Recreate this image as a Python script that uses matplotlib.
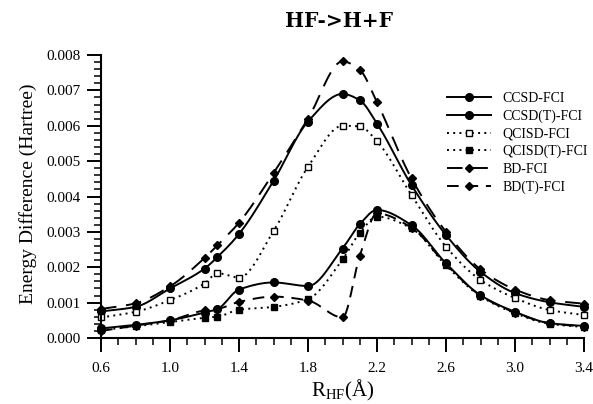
import numpy as np
import matplotlib
matplotlib.use("Agg")
import matplotlib.pyplot as plt
from matplotlib.lines import Line2D
from matplotlib.ticker import MultipleLocator, FixedLocator, FormatStrFormatter

plt.rcParams["font.family"] = ["Liberation Serif", "DejaVu Serif"]
plt.rcParams["mathtext.fontset"] = "custom"
plt.rcParams["mathtext.rm"] = "Liberation Serif"

# H-F bond distance (Angstrom)
r_hf = [0.6, 0.8, 1.0, 1.2, 1.275, 1.4, 1.6, 1.8, 2.0, 2.1, 2.2, 2.4, 2.6, 2.8, 3.0, 3.2, 3.4]

# Energy differences relative to FCI (Hartree)
ccsd = [0.00075, 0.00088, 0.00140, 0.00196, 0.00229, 0.00294, 0.00444, 0.00612, 0.00690,
        0.00672, 0.00606, 0.00432, 0.00291, 0.00187, 0.00127, 0.00101, 0.00088]
ccsd_t = [0.00027, 0.00037, 0.00050, 0.00072, 0.00082, 0.00137, 0.00157, 0.00147, 0.00253,
          0.00322, 0.00362, 0.00319, 0.00211, 0.00121, 0.00074, 0.00042, 0.00034]
qcisd = [0.00058, 0.00074, 0.00107, 0.00154, 0.00183, 0.00171, 0.00302, 0.00484, 0.00600,
         0.00598, 0.00556, 0.00404, 0.00258, 0.00164, 0.00113, 0.00079, 0.00065]
qcisd_t = [0.00022, 0.00033, 0.00045, 0.00057, 0.00060, 0.00080, 0.00088, 0.00110, 0.00222,
           0.00297, 0.00343, 0.00310, 0.00205, 0.00118, 0.00070, 0.00040, 0.00031]
bd = [0.00082, 0.00098, 0.00146, 0.00226, 0.00262, 0.00326, 0.00466, 0.00620, 0.00782,
      0.00758, 0.00666, 0.00451, 0.00300, 0.00194, 0.00137, 0.00107, 0.00097]
bd_t = [0.00020, 0.00035, 0.00050, 0.00078, 0.00082, 0.00102, 0.00117, 0.00106, 0.00058,
        0.00232, 0.00352, 0.00312, 0.00208, 0.00120, 0.00072, 0.00042, 0.00032]

series_labels = ["CCSD-FCI", "CCSD(T)-FCI", "QCISD-FCI", "QCISD(T)-FCI", "BD-FCI", "BD(T)-FCI"]

# Axis tick positions
x_major_ticks = [0.6, 1.0, 1.4, 1.8, 2.2, 2.6, 3.0, 3.4]


def smooth_curve(x, y, n=24):
    """Monotone cubic (Fritsch-Carlson) curve through the points, for drawing."""
    x = np.asarray(x, float)
    y = np.asarray(y, float)
    h = np.diff(x)
    delta = np.diff(y) / h
    d = np.zeros_like(y)
    for k in range(1, len(x) - 1):
        if delta[k - 1] * delta[k] > 0:
            w1 = 2 * h[k] + h[k - 1]
            w2 = h[k] + 2 * h[k - 1]
            d[k] = (w1 + w2) / (w1 / delta[k - 1] + w2 / delta[k])
    d[0] = delta[0]
    d[-1] = delta[-1]
    xs, ys = [], []
    for k in range(len(x) - 1):
        t = np.linspace(0, 1, n, endpoint=(k == len(x) - 2))
        h00 = 2 * t**3 - 3 * t**2 + 1
        h10 = t**3 - 2 * t**2 + t
        h01 = -2 * t**3 + 3 * t**2
        h11 = t**3 - t**2
        ys.append(h00 * y[k] + h10 * h[k] * d[k] + h01 * y[k + 1] + h11 * h[k] * d[k + 1])
        xs.append(x[k] + t * h[k])
    return np.concatenate(xs), np.concatenate(ys)


styles = [
    dict(ls="-", marker="o", mfc="k", ms=5.5),
    dict(ls="-", marker="o", mfc="k", ms=5.5),
    dict(ls=(0, (1, 2.2)), marker="s", mfc="white", ms=5),
    dict(ls=(0, (1, 2.2)), marker="s", mfc="k", ms=5),
    dict(ls=(0, (8, 5)), marker="D", mfc="k", ms=4),
    dict(ls=(0, (6, 4)), marker="D", mfc="k", ms=4),
]

fig = plt.figure(figsize=(5.93, 4.04), dpi=100)
ax = fig.add_axes([101 / 593, 1 - 338 / 404, (584 - 101) / 593, (338 - 55) / 404])

all_series = [ccsd, ccsd_t, qcisd, qcisd_t, bd, bd_t]
handles = []
for vals, st, lab in zip(all_series, styles, series_labels):
    xs, ys = smooth_curve(r_hf, vals)
    ax.plot(xs, ys, color="k", lw=1.4, ls=st["ls"], clip_on=False)
    ax.plot(r_hf, vals, ls="none", marker=st["marker"], ms=st["ms"], mfc=st["mfc"],
            mec="k", mew=1.0, clip_on=False)
    handles.append(Line2D([], [], color="k", lw=1.4, ls=st["ls"], marker=st["marker"],
                          ms=st["ms"], mfc=st["mfc"], mec="k", mew=1.0))

ax.set_xlim(0.6, 3.4)
ax.set_ylim(0.0, 0.008)
ax.xaxis.set_major_locator(FixedLocator(x_major_ticks))
ax.xaxis.set_minor_locator(MultipleLocator(0.1))
ax.yaxis.set_major_locator(MultipleLocator(0.001))
ax.yaxis.set_minor_locator(MultipleLocator(0.0002))
ax.xaxis.set_major_formatter(FormatStrFormatter("%.1f"))
ax.yaxis.set_major_formatter(FormatStrFormatter("%.3f"))

for side in ("top", "right"):
    ax.spines[side].set_visible(False)
for side in ("left", "bottom"):
    ax.spines[side].set_linewidth(1.5)

ax.tick_params(which="major", direction="out", length=10, width=1.4, labelsize=11, pad=5)
ax.tick_params(which="minor", direction="out", length=5, width=1.1)
ax.tick_params(axis="x", which="major", pad=7)

leg = ax.legend(handles, series_labels, loc="upper left",
                bbox_to_anchor=(447 / 593, 1 - 92 / 404), bbox_transform=fig.transFigure,
                frameon=False, fontsize=10, handlelength=3.2, handletextpad=0.8,
                labelspacing=0.32, borderpad=0, borderaxespad=0, numpoints=1)

fig.text(339 / 593, 1 - 21 / 404, "HF->H+F", ha="center", va="center",
         fontsize=14.5, fontweight="bold", family="DejaVu Serif")
fig.text(28 / 593, 1 - 194 / 404, "Energy Difference (Hartree)", ha="center", va="center",
         rotation=90, fontsize=14)
fig.text(343 / 593, 1 - 390 / 404, r"R$_{\mathrm{HF}}$(Å)", ha="center", va="center",
         fontsize=15)

fig.savefig("out.png", dpi=100)
